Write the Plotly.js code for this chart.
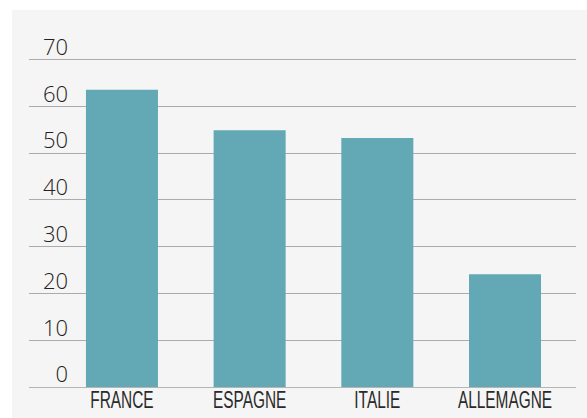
<!DOCTYPE html>
<html>
<head>
<meta charset="utf-8">
<script src="https://cdn.plot.ly/plotly-3.0.1.min.js"></script>
<style>
html,body{margin:0;padding:0;background:#ffffff;width:587px;height:418px;overflow:hidden;}
#chart{position:absolute;left:12px;top:10px;width:575px;height:408px;}
</style>
</head>
<body>
<div id="chart"></div>
<script>
var categories = ["FRANCE", "ESPAGNE", "ITALIE", "ALLEMAGNE"];
var values = [63.5, 54.9, 53.2, 24.1];
var yTicks = [0, 10, 20, 30, 40, 50, 60, 70];
var yTickText = ["\u20070", "10", "20", "30", "40", "50", "60", "70"];

var trace = {
  type: "bar",
  x: categories,
  y: values,
  marker: {color: "#62a9b5"},
  hoverinfo: "x+y"
};

var layout = {
  width: 575,
  height: 408,
  margin: {l: 17, r: 11, t: 12, b: 27, pad: 0},
  paper_bgcolor: "#f5f5f5",
  plot_bgcolor: "#f5f5f5",
  showlegend: false,
  bargap: 0.436,
  xaxis: {
    type: "category",
    range: [-0.728, 3.556],
    showgrid: false,
    zeroline: false,
    showline: false,
    ticks: "",
    ticklabelstandoff: -7,
    tickfont: {family: "Liberation Sans, Arial, sans-serif", size: 23, color: "#2a2a2a"},
    fixedrange: true
  },
  yaxis: {
    range: [-0.83, 78],
    tickvals: yTicks,
    ticktext: yTickText,
    showgrid: true,
    gridcolor: "#ababab",
    gridwidth: 1,
    zeroline: true,
    zerolinecolor: "#b5b5b5",
    zerolinewidth: 1,
    showline: false,
    ticks: "",
    ticklabelposition: "inside top",
    ticklabelstandoff: 11,
    ticklabelshift: 3,
    tickfont: {family: "Open Sans, sans-serif", size: 22, weight: 300, color: "#222222"},
    fixedrange: true
  }
};

Plotly.newPlot("chart", [trace], layout, {displayModeBar: false, staticPlot: true}).then(function () {
  document.querySelectorAll("#chart .xtick text").forEach(function (t) {
    var len = t.getComputedTextLength();
    t.setAttribute("lengthAdjust", "spacingAndGlyphs");
    t.setAttribute("textLength", (len * 0.67).toFixed(1));
  });
});
</script>
</body>
</html>
